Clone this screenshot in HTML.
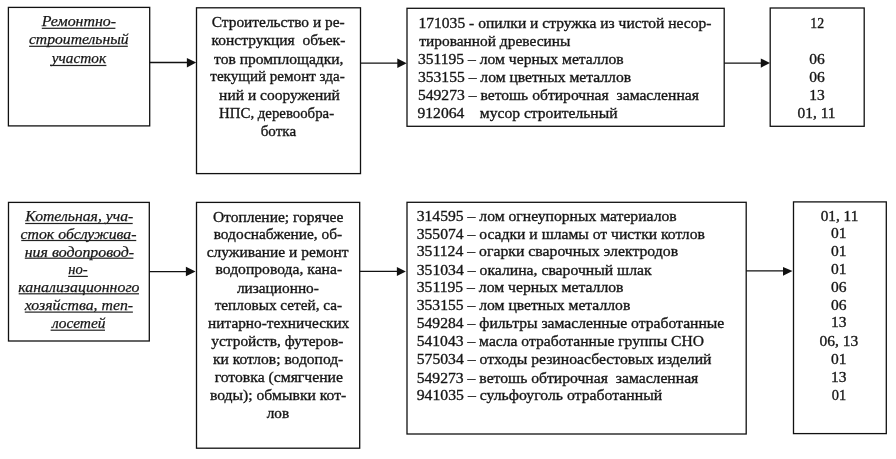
<!DOCTYPE html>
<html><head><meta charset="utf-8"><style>
html,body{margin:0;padding:0;background:#fff;overflow:hidden;}
svg{display:block;will-change:transform;}
text{font-family:"Liberation Serif",serif;font-size:15.5px;fill:#161616;white-space:pre;stroke:#161616;stroke-width:0.35px;}
text.i{font-style:italic;font-size:15.4px;stroke-width:0.25px;}
.u{fill:#222;}
.b{fill:none;stroke:#111;stroke-width:1.3;}
.a{stroke:#111;stroke-width:1.3;}
.h{fill:#111;}
</style></head><body>
<svg width="896" height="459" viewBox="0 0 896 459">
<rect x="8.4" y="7.4" width="141.3" height="118.5" class="b"/>
<rect x="196.5" y="7.8" width="164.0" height="165.8" class="b"/>
<rect x="407.0" y="8.3" width="317.2" height="118.0" class="b"/>
<rect x="770.2" y="8.0" width="94.0" height="118.3" class="b"/>
<rect x="8.5" y="202.4" width="140.8" height="138.6" class="b"/>
<rect x="196.5" y="202.4" width="163.2" height="245.8" class="b"/>
<rect x="407.0" y="202.3" width="339.2" height="231.7" class="b"/>
<rect x="793.5" y="201.9" width="92.8" height="231.7" class="b"/>
<line x1="149.7" y1="62.5" x2="187.9" y2="62.5" class="a"/>
<polygon points="186.9,58.1 196.2,62.5 186.9,67.4" class="h"/>
<line x1="360.5" y1="63.2" x2="398.3" y2="63.2" class="a"/>
<polygon points="397.3,58.4 406.7,63.2 397.3,68.0" class="h"/>
<line x1="724.2" y1="63.1" x2="761.8" y2="63.1" class="a"/>
<polygon points="760.8,58.4 770.0,63.1 760.8,67.7" class="h"/>
<line x1="149.3" y1="271.6" x2="186.9" y2="271.6" class="a"/>
<polygon points="185.9,266.7 195.6,271.6 185.9,276.2" class="h"/>
<line x1="359.7" y1="271.4" x2="397.9" y2="271.4" class="a"/>
<polygon points="396.9,267.0 405.9,271.4 396.9,276.0" class="h"/>
<line x1="746.2" y1="270.9" x2="784.0" y2="270.9" class="a"/>
<polygon points="783.0,267.0 792.5,270.9 783.0,275.7" class="h"/>
<text x="41.70" y="26.40" textLength="74.40" lengthAdjust="spacingAndGlyphs" class="i">Ремонтно-</text>
<rect x="41.80" y="27.70" width="73.60" height="1.2" class="u"/>
<text x="28.90" y="44.40" textLength="99.80" lengthAdjust="spacingAndGlyphs" class="i">строительный</text>
<rect x="29.10" y="45.70" width="98.70" height="1.2" class="u"/>
<text x="51.80" y="62.50" textLength="54.30" lengthAdjust="spacingAndGlyphs" class="i">участок</text>
<rect x="50.00" y="64.90" width="56.40" height="1.2" class="u"/>
<text x="211.70" y="26.70" textLength="133.00" lengthAdjust="spacingAndGlyphs">Строительство и ре-</text>
<text x="211.50" y="45.10" textLength="133.80" lengthAdjust="spacingAndGlyphs">конструкция  объек-</text>
<text x="214.10" y="63.70" textLength="129.40" lengthAdjust="spacingAndGlyphs">тов промплощадки,</text>
<text x="210.30" y="81.10" textLength="134.40" lengthAdjust="spacingAndGlyphs">текущий ремонт зда-</text>
<text x="219.10" y="99.90" textLength="120.80" lengthAdjust="spacingAndGlyphs">ний и сооружений</text>
<text x="219.10" y="117.90" textLength="115.00" lengthAdjust="spacingAndGlyphs">НПС, деревообра-</text>
<text x="260.70" y="136.30" textLength="35.40" lengthAdjust="spacingAndGlyphs">ботка</text>
<text x="418.50" y="27.60" textLength="293.00" lengthAdjust="spacingAndGlyphs">171035 - опилки и стружка из чистой несор-</text>
<text x="419.30" y="45.90" textLength="151.00" lengthAdjust="spacingAndGlyphs">тированной древесины</text>
<text x="417.90" y="64.10" textLength="205.80" lengthAdjust="spacingAndGlyphs">351195 – лом черных металлов</text>
<text x="417.90" y="81.90" textLength="213.20" lengthAdjust="spacingAndGlyphs">353155 – лом цветных металлов</text>
<text x="417.90" y="100.10" textLength="281.00" lengthAdjust="spacingAndGlyphs">549273 – ветошь обтирочная  замасленная</text>
<text x="417.50" y="117.90" textLength="200.00" lengthAdjust="spacingAndGlyphs">912064    мусор строительный</text>
<text x="810.30" y="27.60" textLength="13.80" lengthAdjust="spacingAndGlyphs">12</text>
<text x="817.00" y="64.10" text-anchor="middle">06</text>
<text x="817.00" y="81.90" text-anchor="middle">06</text>
<text x="817.00" y="100.10" text-anchor="middle">13</text>
<text x="797.50" y="117.90" textLength="38.00" lengthAdjust="spacingAndGlyphs">01, 11</text>
<text x="25.30" y="221.00" textLength="108.00" lengthAdjust="spacingAndGlyphs" class="i">Котельная, уча-</text>
<rect x="25.20" y="222.90" width="107.50" height="1.2" class="u"/>
<text x="20.50" y="238.60" textLength="116.00" lengthAdjust="spacingAndGlyphs" class="i">сток обслужива-</text>
<rect x="21.25" y="239.90" width="115.00" height="1.2" class="u"/>
<text x="24.70" y="256.50" textLength="109.40" lengthAdjust="spacingAndGlyphs" class="i">ния водопровод-</text>
<rect x="24.80" y="257.60" width="108.60" height="1.2" class="u"/>
<text x="68.30" y="274.10" textLength="19.40" lengthAdjust="spacingAndGlyphs" class="i">но-</text>
<rect x="68.20" y="275.80" width="19.60" height="1.2" class="u"/>
<text x="18.30" y="291.60" textLength="121.20" lengthAdjust="spacingAndGlyphs" class="i">канализационного</text>
<rect x="18.70" y="293.20" width="120.30" height="1.2" class="u"/>
<text x="24.70" y="309.70" textLength="108.40" lengthAdjust="spacingAndGlyphs" class="i">хозяйства, теп-</text>
<rect x="24.80" y="311.50" width="108.10" height="1.2" class="u"/>
<text x="51.90" y="327.80" textLength="53.60" lengthAdjust="spacingAndGlyphs" class="i">лосетей</text>
<rect x="50.60" y="329.60" width="54.40" height="1.2" class="u"/>
<text x="212.90" y="221.50" textLength="130.40" lengthAdjust="spacingAndGlyphs">Отопление; горячее</text>
<text x="213.70" y="239.00" textLength="128.40" lengthAdjust="spacingAndGlyphs">водоснабжение, об-</text>
<text x="206.70" y="256.70" textLength="141.80" lengthAdjust="spacingAndGlyphs">служивание и ремонт</text>
<text x="215.50" y="274.30" textLength="126.60" lengthAdjust="spacingAndGlyphs">водопровода, кана-</text>
<text x="236.90" y="292.50" textLength="82.00" lengthAdjust="spacingAndGlyphs">лизационно-</text>
<text x="214.70" y="309.70" textLength="127.40" lengthAdjust="spacingAndGlyphs">тепловых сетей, са-</text>
<text x="208.10" y="327.70" textLength="141.20" lengthAdjust="spacingAndGlyphs">нитарно-технических</text>
<text x="211.30" y="345.70" textLength="132.00" lengthAdjust="spacingAndGlyphs">устройств, футеров-</text>
<text x="212.90" y="363.90" textLength="130.40" lengthAdjust="spacingAndGlyphs">ки котлов; водопод-</text>
<text x="214.70" y="382.40" textLength="128.20" lengthAdjust="spacingAndGlyphs">готовка (смягчение</text>
<text x="209.90" y="400.10" textLength="136.40" lengthAdjust="spacingAndGlyphs">воды); обмывки кот-</text>
<text x="266.70" y="418.30" textLength="22.40" lengthAdjust="spacingAndGlyphs">лов</text>
<text x="416.70" y="221.00" textLength="260.00" lengthAdjust="spacingAndGlyphs">314595 – лом огнеупорных материалов</text>
<text x="416.70" y="238.60" textLength="288.20" lengthAdjust="spacingAndGlyphs">355074 – осадки и шламы от чистки котлов</text>
<text x="416.70" y="256.30" textLength="261.40" lengthAdjust="spacingAndGlyphs">351124 – огарки сварочных электродов</text>
<text x="416.70" y="274.50" textLength="235.00" lengthAdjust="spacingAndGlyphs">351034 – окалина, сварочный шлак</text>
<text x="416.70" y="292.30" textLength="206.80" lengthAdjust="spacingAndGlyphs">351195 – лом черных металлов</text>
<text x="416.70" y="309.90" textLength="213.60" lengthAdjust="spacingAndGlyphs">353155 – лом цветных металлов</text>
<text x="416.70" y="327.80" textLength="307.60" lengthAdjust="spacingAndGlyphs">549284 – фильтры замасленные отработанные</text>
<text x="416.70" y="346.20" textLength="287.40" lengthAdjust="spacingAndGlyphs">541043 – масла отработанные группы СНО</text>
<text x="416.70" y="364.00" textLength="294.80" lengthAdjust="spacingAndGlyphs">575034 – отходы резиноасбестовых изделий</text>
<text x="416.70" y="382.50" textLength="281.60" lengthAdjust="spacingAndGlyphs">549273 – ветошь обтирочная  замасленная</text>
<text x="416.70" y="400.40" textLength="245.60" lengthAdjust="spacingAndGlyphs">941035 – сульфоуголь отработанный</text>
<text x="820.70" y="220.60" textLength="37.60" lengthAdjust="spacingAndGlyphs">01, 11</text>
<text x="838.80" y="238.20" text-anchor="middle">01</text>
<text x="838.80" y="255.90" text-anchor="middle">01</text>
<text x="838.80" y="274.10" text-anchor="middle">01</text>
<text x="838.80" y="291.90" text-anchor="middle">06</text>
<text x="838.80" y="309.50" text-anchor="middle">06</text>
<text x="838.80" y="327.40" text-anchor="middle">13</text>
<text x="838.80" y="345.80" text-anchor="middle">06, 13</text>
<text x="838.80" y="363.60" text-anchor="middle">01</text>
<text x="838.80" y="382.10" text-anchor="middle">13</text>
<text x="831.70" y="400.00" textLength="14.40" lengthAdjust="spacingAndGlyphs">01</text>
</svg>
</body></html>
